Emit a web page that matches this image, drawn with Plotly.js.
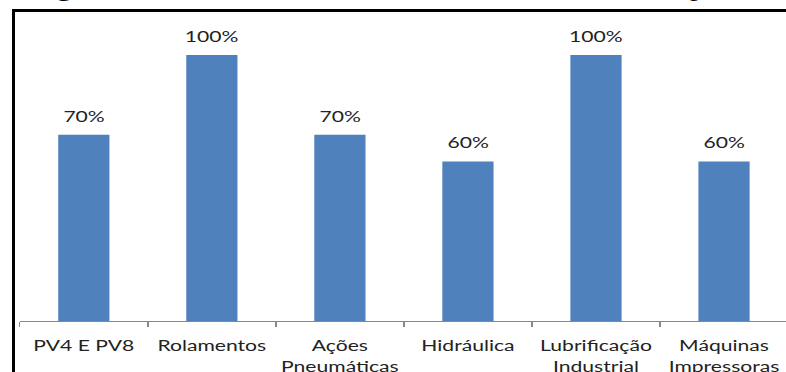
<!DOCTYPE html>
<html>
<head>
<meta charset="utf-8">
<script src="https://cdn.plot.ly/plotly-3.0.1.min.js"></script>
<style>
  html, body { margin: 0; padding: 0; background: #fff; overflow: hidden; width: 786px; height: 372px; }
  #wrap { position: absolute; left: 0; top: 0; width: 786px; height: 372px; overflow: hidden; }
  #chart { position: absolute; left: 0; top: 0; width: 597px; height: 372px; transform: scaleX(1.32); transform-origin: 0 0; }
  #frame { position: absolute; left: 12px; top: 9px; width: 800px; height: 400px; border-left: 3px solid #000; border-top: 3px solid #000; pointer-events: none; }
</style>
</head>
<body>
<div id="wrap">
  <div id="chart"></div>
  <div id="frame"></div>
</div>
<script>
const categories = ["PV4 E PV8", "Rolamentos", "Ações<br>Pneumáticas", "Hidráulica", "Lubrificação<br>Industrial", "Máquinas<br>Impressoras"];
const values = [0.70, 1.00, 0.70, 0.60, 1.00, 0.60];
const valueLabels = ["70%", "100%", "70%", "60%", "100%", "60%"];
const captionText = "Figura 11 – Percentual de treinamentos realizados no período";

const font = "Lato, 'Open Sans', sans-serif";

const annotations = categories.map((c, i) => ({
  x: c, y: values[i], xref: "x", yref: "y",
  text: valueLabels[i], showarrow: false,
  yanchor: "bottom", yshift: 8,
  font: { family: font, size: 16, color: "#222" }
}));
annotations.push({
  xref: "paper", yref: "paper", x: 0.0106, y: 1.026,
  xanchor: "left", yanchor: "bottom", showarrow: false, yshift: 4,
  text: captionText,
  font: { family: "'Liberation Serif', 'Times New Roman', serif", size: 23.3, color: "#000" }
});

const data = [{
  type: "bar",
  x: categories,
  y: values,
  marker: { color: "#4F81BD", line: { width: 0 } },
  hoverinfo: "none"
}];

const layout = {
  width: 597, height: 372,
  margin: { l: 15, r: 0, t: 15, b: 51, pad: 0 },
  paper_bgcolor: "rgba(0,0,0,0)",
  plot_bgcolor: "rgba(0,0,0,0)",
  bargap: 0.6,
  showlegend: false,
  xaxis: {
    type: "category",
    showline: true, linecolor: "#888", linewidth: 1,
    ticks: "outside", tickson: "boundaries", ticklen: 5, tickcolor: "#888", tickwidth: 1,
    tickangle: 0, ticklabelstandoff: 10,
    tickfont: { family: font, size: 16, color: "#222" },
    showgrid: false, zeroline: false, fixedrange: true
  },
  yaxis: {
    range: [0, 1.1504], visible: false, showgrid: false, zeroline: false, fixedrange: true
  },
  annotations: annotations
};

Plotly.newPlot("chart", data, layout, { staticPlot: true, displayModeBar: false });
</script>
</body>
</html>
